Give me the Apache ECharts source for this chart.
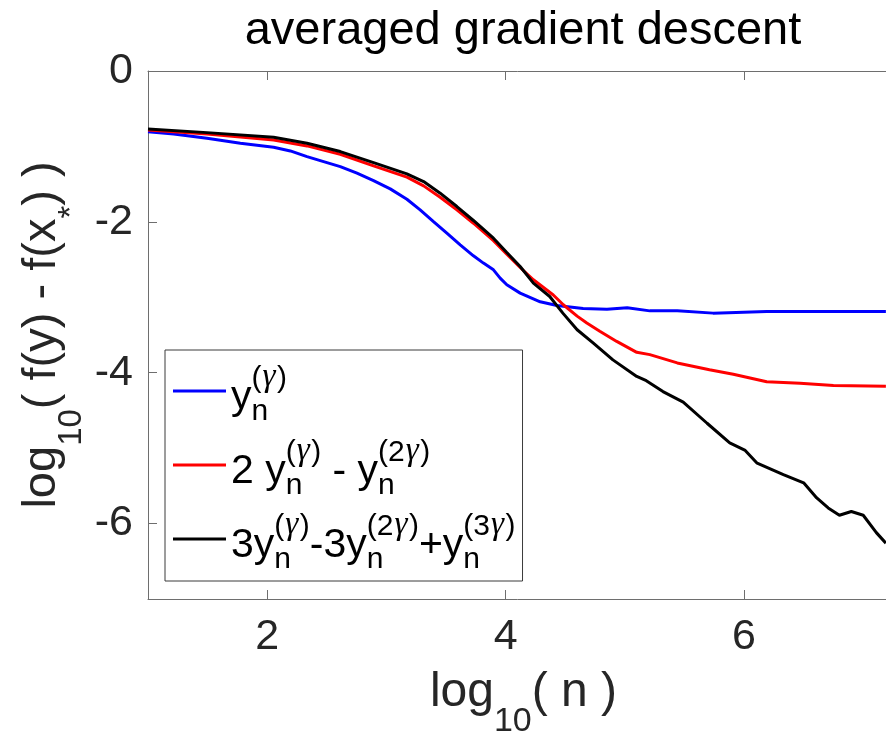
<!DOCTYPE html>
<html>
<head>
<meta charset="utf-8">
<script src="https://cdn.jsdelivr.net/npm/echarts@6/dist/echarts.min.js"></script>
<style>
html,body{margin:0;padding:0;background:#fff;}
#chart{width:886px;height:734px;}
</style>
</head>
<body>
<div id="chart"></div>
<script>
// ---- data (x = log10(n), y = log10(f(y)-f(x*))) ----
const blueX = [1.0, 1.216, 1.495, 1.775, 2.054, 2.194, 2.334, 2.473, 2.613, 2.753, 2.892, 3.032, 3.172, 3.283, 3.395, 3.507, 3.619, 3.730, 3.814, 3.898, 3.954, 4.010, 4.122, 4.29, 4.43, 4.65, 4.85, 5.02, 5.21, 5.44, 5.74, 6.19, 6.75, 7.19];
const blueY = [-0.804, -0.834, -0.892, -0.958, -1.011, -1.060, -1.135, -1.201, -1.267, -1.355, -1.453, -1.563, -1.700, -1.841, -1.996, -2.150, -2.305, -2.450, -2.547, -2.636, -2.746, -2.834, -2.945, -3.06, -3.11, -3.15, -3.16, -3.14, -3.18, -3.18, -3.21, -3.19, -3.19, -3.19];

const redX = [1.0, 1.495, 2.054, 2.334, 2.613, 2.892, 3.172, 3.312, 3.451, 3.591, 3.730, 3.898, 4.010, 4.122, 4.233, 4.40, 4.484, 4.60, 4.681, 4.79, 4.932, 5.10, 5.21, 5.44, 5.71, 5.91, 6.05, 6.19, 6.47, 6.75, 7.19];
const redY = [-0.781, -0.834, -0.914, -0.993, -1.104, -1.258, -1.408, -1.523, -1.673, -1.841, -2.018, -2.250, -2.430, -2.605, -2.768, -2.97, -3.099, -3.25, -3.342, -3.45, -3.585, -3.73, -3.76, -3.87, -3.96, -4.02, -4.07, -4.12, -4.14, -4.17, -4.18];

const blackX = [1.0, 1.495, 2.054, 2.334, 2.613, 2.892, 3.172, 3.312, 3.451, 3.591, 3.730, 3.898, 4.010, 4.122, 4.233, 4.37, 4.48, 4.60, 4.736, 4.90, 5.10, 5.18, 5.32, 5.49, 5.69, 5.88, 6.01, 6.11, 6.33, 6.50, 6.61, 6.706, 6.80, 6.90, 7.00, 7.11, 7.19];
const blackY = [-0.768, -0.817, -0.879, -0.958, -1.068, -1.214, -1.364, -1.466, -1.620, -1.797, -1.982, -2.216, -2.406, -2.592, -2.812, -2.99, -3.21, -3.43, -3.607, -3.83, -4.05, -4.106, -4.25, -4.39, -4.67, -4.93, -5.03, -5.20, -5.35, -5.46, -5.66, -5.793, -5.89, -5.84, -5.89, -6.12, -6.26];

const xTicks = [2, 4, 6];
const yTicks = [-6, -4, -2, 0];

const seriesNames = ['y_n^(γ)', '2 y_n^(γ) - y_n^(2γ)', '3y_n^(γ)-3y_n^(2γ)+y_n^(3γ)'];
const legendRich = [
  '{m|y}{n|n}{s|(}{g|γ}{s|)}',
  '{m|2 y}{n|n}{s|(}{g|γ}{s|)}{m| - y}{n|n}{s|(2}{g|γ}{s|)}',
  '{m|3y}{n|n}{s|(}{g|γ}{s|)}{m|-3y}{n|n}{s|(2}{g|γ}{s|)}{m|+y}{n|n}{s|(3}{g|γ}{s|)}'
];
const seriesColors = ['#0000ff', '#ff0000', '#000000'];
const titleText = 'averaged gradient descent';

// ---- chart ----
const FONT = '"Liberation Sans", Arial, Helvetica, sans-serif';
const GFONT = '"Liberation Serif", "DejaVu Serif", serif';
const pairs = (xs, ys) => xs.map((x, i) => [x, ys[i]]);
const seriesData = [pairs(blueX, blueY), pairs(redX, redY), pairs(blackX, blackY)];

const axisColor = '#6e6e6e';
const labelColor = '#262626';

const chart = echarts.init(document.getElementById('chart'), null, {renderer: 'canvas'});
chart.setOption({
  animation: false,
  backgroundColor: '#ffffff',
  title: {
    text: titleText,
    left: 523,
    textAlign: 'center',
    top: 8,
    padding: 0,
    textStyle: {fontFamily: FONT, fontSize: 47, fontWeight: 'normal', color: '#000'}
  },
  grid: {left: 148, right: -13, top: 71, bottom: 135, containLabel: false, outerBoundsMode: 'none'},
  legend: {
    show: true,
    orient: 'vertical',
    left: 165,
    top: 350,
    padding: [5, 7, 6, 8],
    itemGap: 2,
    itemWidth: 53,
    itemHeight: 3,
    icon: 'rect',
    selectedMode: false,
    backgroundColor: '#ffffff',
    borderColor: '#3a3a3a',
    borderWidth: 1,
    borderRadius: 0,
    data: seriesNames,
    formatter: function (name) { return legendRich[seriesNames.indexOf(name)]; },
    textStyle: {
      fontFamily: FONT, color: '#000',
      rich: {
        m: {fontFamily: FONT, fontSize: 41, lineHeight: 41, color: '#000', padding: [13, 0, 0, 0]},
        n: {fontFamily: FONT, fontSize: 30, lineHeight: 30, color: '#000', width: 0, padding: [42, 0, 0, 0]},
        s: {fontFamily: FONT, fontSize: 30, lineHeight: 30, color: '#000', padding: [0, 0, 24, 0]},
        g: {fontFamily: GFONT, fontStyle: 'italic', fontSize: 33, lineHeight: 33, color: '#000', padding: [0, 1.5, 27, 1]}
      }
    }
  },
  xAxis: [{
    type: 'value',
    min: 1,
    max: 7.3,
    position: 'bottom',
    name: '{m|log}{sb|10}{m|( n )}',
    nameLocation: 'middle',
    nameGap: 70,
    nameMoveOverlap: false,
    nameTextStyle: {
      fontFamily: FONT, color: labelColor,
      rich: {
        m: {fontFamily: FONT, fontSize: 48, lineHeight: 48, color: labelColor},
        sb: {fontFamily: FONT, fontSize: 34, lineHeight: 34, color: labelColor, padding: [58, 0, 0, 0]}
      }
    },
    axisLine: {show: true, onZero: false, lineStyle: {color: axisColor, width: 1}},
    axisTick: {show: true, inside: true, length: 9, customValues: xTicks, lineStyle: {color: axisColor, width: 1}},
    axisLabel: {show: true, customValues: xTicks, margin: 17, fontFamily: FONT, fontSize: 43, color: labelColor},
    splitLine: {show: false},
    minorTick: {show: false}
  }, {
    type: 'value',
    min: 1,
    max: 7.3,
    position: 'top',
    axisLine: {show: true, onZero: false, lineStyle: {color: axisColor, width: 1}},
    axisTick: {show: true, inside: true, length: 9, customValues: xTicks, lineStyle: {color: axisColor, width: 1}},
    axisLabel: {show: false},
    splitLine: {show: false}
  }],
  yAxis: {
    type: 'value',
    min: -7,
    max: 0,
    name: '{m|log}{sb|10}{m|( f(y) - f(x}{sb|*}{m|) )}',
    nameLocation: 'middle',
    nameGap: 82,
    nameRotate: 90,
    nameMoveOverlap: false,
    nameTextStyle: {
      fontFamily: FONT, color: labelColor,
      rich: {
        m: {fontFamily: FONT, fontSize: 47, lineHeight: 47, color: labelColor},
        sb: {fontFamily: FONT, fontSize: 33, lineHeight: 33, color: labelColor, padding: [58, 0, 0, 0]}
      }
    },
    axisLine: {show: true, onZero: false, lineStyle: {color: axisColor, width: 1}},
    axisTick: {show: true, inside: true, length: 9, customValues: yTicks, lineStyle: {color: axisColor, width: 1}},
    axisLabel: {show: true, customValues: yTicks, margin: 15, fontFamily: FONT, fontSize: 43, color: labelColor},
    splitLine: {show: false}
  },
  series: seriesNames.map((name, i) => ({
    name: name,
    type: 'line',
    xAxisIndex: 0,
    data: seriesData[i],
    showSymbol: false,
    symbol: 'none',
    smooth: false,
    color: seriesColors[i],
    lineStyle: {color: seriesColors[i], width: 3},
    emphasis: {disabled: true}
  }))
});
</script>
</body>
</html>
